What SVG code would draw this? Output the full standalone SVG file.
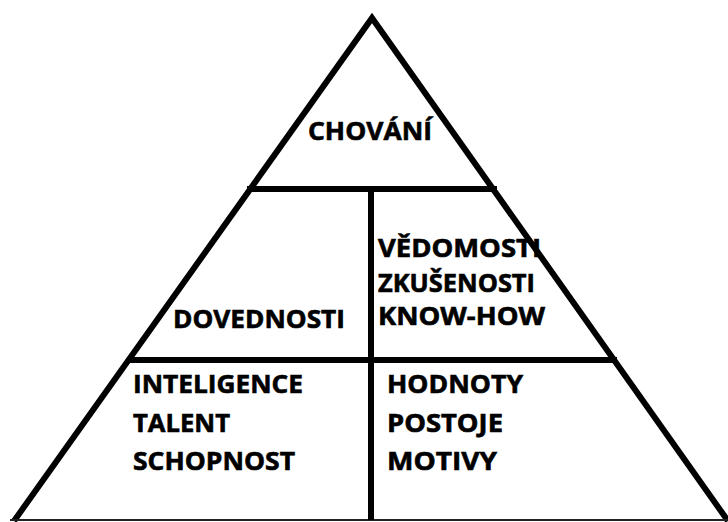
<svg xmlns="http://www.w3.org/2000/svg" width="728" height="522" viewBox="0 0 728 522">
<style>
.ln{stroke:#000;stroke-width:6;fill:none;stroke-linejoin:miter;stroke-linecap:butt}
.t{font-family:"Open Sans","Liberation Sans",sans-serif;font-weight:700;font-size:25px;fill:#000;stroke:#000;stroke-width:0.6}
</style>
<rect width="728" height="522" fill="#fff"/>
<g id="connectors">
<polyline class="ln" points="14,521 372,18 728,521"/>
<line x1="10" y1="520" x2="728" y2="520" stroke="#222" stroke-width="2"/>
<line class="ln" x1="247" y1="189" x2="497" y2="189"/>
<line class="ln" x1="127" y1="360" x2="617" y2="360"/>
<line class="ln" x1="371" y1="189" x2="371" y2="520"/>
</g>
<g id="chovani"><text class="t" x="308" y="140" textLength="124" lengthAdjust="spacingAndGlyphs">CHOVÁNÍ</text></g>
<g id="dovednosti"><text class="t" x="173" y="328" textLength="172" lengthAdjust="spacingAndGlyphs">DOVEDNOSTI</text></g>
<g id="vedomosti">
<text class="t" x="378" y="257" textLength="163" lengthAdjust="spacingAndGlyphs">VĚDOMOSTI</text>
<text class="t" x="378" y="292" textLength="157" lengthAdjust="spacingAndGlyphs">ZKUŠENOSTI</text>
<text class="t" x="378" y="325" textLength="167" lengthAdjust="spacingAndGlyphs">KNOW-HOW</text>
</g>
<g id="inteligence">
<text class="t" x="133" y="393" textLength="170" lengthAdjust="spacingAndGlyphs">INTELIGENCE</text>
<text class="t" x="133" y="432" textLength="97" lengthAdjust="spacingAndGlyphs">TALENT</text>
<text class="t" x="133" y="470" textLength="162" lengthAdjust="spacingAndGlyphs">SCHOPNOST</text>
</g>
<g id="hodnoty">
<text class="t" x="387" y="393" textLength="136" lengthAdjust="spacingAndGlyphs">HODNOTY</text>
<text class="t" x="387" y="432" textLength="116" lengthAdjust="spacingAndGlyphs">POSTOJE</text>
<text class="t" x="387" y="470" textLength="110" lengthAdjust="spacingAndGlyphs">MOTIVY</text>
</g>
</svg>
